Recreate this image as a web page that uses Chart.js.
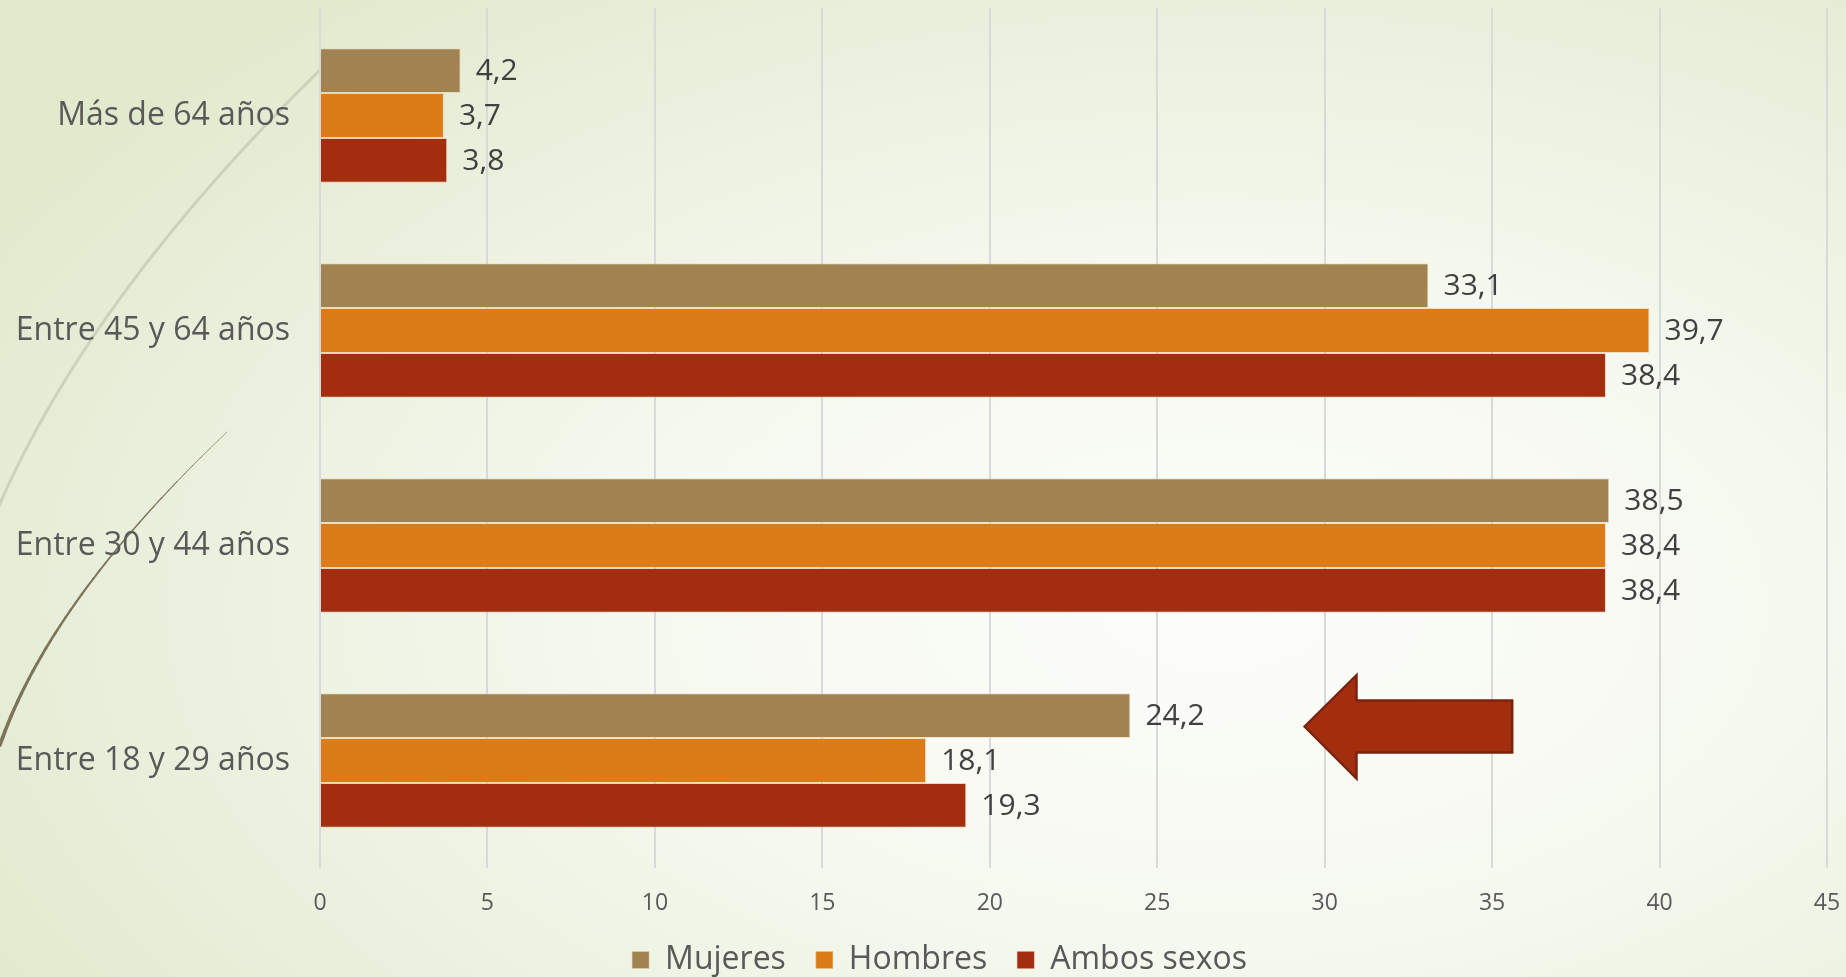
<!DOCTYPE html>
<html>
<head>
<meta charset="utf-8">
<script src="https://cdn.jsdelivr.net/npm/chart.js@4.4.1/dist/chart.umd.min.js"></script>
<style>
  html, body { margin: 0; padding: 0; width: 1846px; height: 977px; overflow: hidden; }
  body { background: radial-gradient(ellipse 75% 80% at 66% 62%, #fcfdfa 0%, #f6f9f0 40%, #e9efdb 80%, #e2eace 100%); }
  #wrap { position: absolute; left: 0; top: 0; width: 1846px; height: 977px; }
</style>
</head>
<body>
<div id="wrap"><canvas id="c" width="1846" height="977"></canvas></div>
<script>
const categories = ['Más de 64 años', 'Entre 45 y 64 años', 'Entre 30 y 44 años', 'Entre 18 y 29 años'];
const seriesNames = ['Mujeres', 'Hombres', 'Ambos sexos'];
const mujeres = [4.2, 33.1, 38.5, 24.2];
const hombres = [3.7, 39.7, 38.4, 18.1];
const ambos = [3.8, 38.4, 38.4, 19.3];
const xMin = 0, xMax = 45, xStep = 5;

const FONT = "'Open Sans', 'Noto Sans', sans-serif";
const TEXT = '#595959';

const decoPlugin = {
  id: 'deco',
  beforeDraw(chart) {
    const ctx = chart.ctx;
    ctx.save();
    ctx.strokeStyle = 'rgba(200,204,182,0.85)';
    ctx.lineWidth = 3;
    ctx.beginPath();
    ctx.moveTo(-2, 508);
    ctx.quadraticCurveTo(90, 295, 322, 68);
    ctx.stroke();
    const P0 = {x: 0, y: 745}, C = {x: 50, y: 600}, P2 = {x: 227, y: 432};
    ctx.strokeStyle = '#7d7459';
    ctx.lineCap = 'round';
    const N = 40;
    let prev = P0;
    for (let i = 1; i <= N; i++) {
      const t = i / N;
      const pt = {
        x: (1 - t) * (1 - t) * P0.x + 2 * t * (1 - t) * C.x + t * t * P2.x,
        y: (1 - t) * (1 - t) * P0.y + 2 * t * (1 - t) * C.y + t * t * P2.y
      };
      ctx.lineWidth = 3.2 * (1 - t) + 0.6;
      ctx.beginPath();
      ctx.moveTo(prev.x, prev.y);
      ctx.lineTo(pt.x, pt.y);
      ctx.stroke();
      prev = pt;
    }
    ctx.restore();
  }
};

const legendShift = {
  id: 'legendShift',
  afterLayout(chart) {
    if (chart.legend) { chart.legend.left += 26; chart.legend.right += 26; }
  }
};

const labelPlugin = {
  id: 'valueLabels',
  afterDatasetsDraw(chart) {
    const ctx = chart.ctx;
    ctx.save();
    ctx.font = "30px " + FONT;
    ctx.fillStyle = '#404040';
    ctx.textAlign = 'left';
    ctx.textBaseline = 'middle';
    chart.data.datasets.forEach((ds, di) => {
      const meta = chart.getDatasetMeta(di);
      meta.data.forEach((bar, i) => {
        const v = ds.data[i];
        ctx.fillText(v.toFixed(1).replace('.', ','), bar.x + 15, bar.y + 1);
      });
    });
    ctx.restore();
  }
};

const arrowPlugin = {
  id: 'arrow',
  afterDatasetsDraw(chart) {
    const xs = chart.scales.x, ys = chart.scales.y;
    const X = v => xs.getPixelForValue(v);
    const Y = v => ys.getPixelForValue(v);
    const tipX = X(29.4), headX = X(30.95), endX = X(35.6);
    const tipY = Y(3 - 0.158);
    const headTop = Y(3 - 0.397), headBot = Y(3 + 0.084);
    const shaftTop = Y(3 - 0.279), shaftBot = Y(3 - 0.037);
    const ctx = chart.ctx;
    ctx.save();
    ctx.beginPath();
    ctx.moveTo(tipX, tipY);
    ctx.lineTo(headX, headTop);
    ctx.lineTo(headX, shaftTop);
    ctx.lineTo(endX, shaftTop);
    ctx.lineTo(endX, shaftBot);
    ctx.lineTo(headX, shaftBot);
    ctx.lineTo(headX, headBot);
    ctx.closePath();
    ctx.fillStyle = '#a32e0e';
    ctx.fill();
    ctx.lineWidth = 2.5;
    ctx.lineJoin = 'miter';
    ctx.strokeStyle = '#7a2410';
    ctx.stroke();
    ctx.restore();
  }
};

new Chart(document.getElementById('c'), {
  type: 'bar',
  data: {
    labels: categories,
    datasets: [
      { label: seriesNames[0], data: mujeres, backgroundColor: '#a08350', borderColor: 'rgba(225,210,175,0.55)', borderWidth: 1 },
      { label: seriesNames[1], data: hombres, backgroundColor: '#dc7c18', borderColor: 'rgba(240,190,130,0.45)', borderWidth: 1 },
      { label: seriesNames[2], data: ambos, backgroundColor: '#a32e0f', borderColor: 'rgba(220,140,120,0.35)', borderWidth: 1 }
    ]
  },
  options: {
    indexAxis: 'y',
    responsive: false,
    animation: false,
    devicePixelRatio: 1,
    categoryPercentage: 0.625,
    barPercentage: 1.0,
    layout: { padding: { left: 0, right: 19, top: 8, bottom: -9 } },
    plugins: {
      legend: {
        position: 'bottom',
        labels: {
          boxWidth: 17, boxHeight: 17, padding: 30,
          color: TEXT,
          font: { family: FONT, size: 32 }
        }
      },
      tooltip: { enabled: false }
    },
    scales: {
      x: {
        min: xMin, max: xMax,
        ticks: { stepSize: xStep, color: TEXT, font: { family: FONT, size: 23 }, padding: 22 },
        grid: { color: '#d9d9d9', lineWidth: 2, drawTicks: false },
        border: { display: false },
        afterFit(scale) { scale.height = 46; scale.paddingLeft = 0; scale.paddingRight = 0; }
      },
      y: {
        ticks: { color: TEXT, font: { family: FONT, size: 32 }, padding: 30 },
        grid: { display: false, drawTicks: false },
        border: { display: false },
        afterFit(scale) { scale.width = 320; scale.paddingTop = 0; scale.paddingBottom = 0; }
      }
    }
  },
  plugins: [decoPlugin, legendShift, labelPlugin, arrowPlugin]
});
</script>
</body>
</html>
